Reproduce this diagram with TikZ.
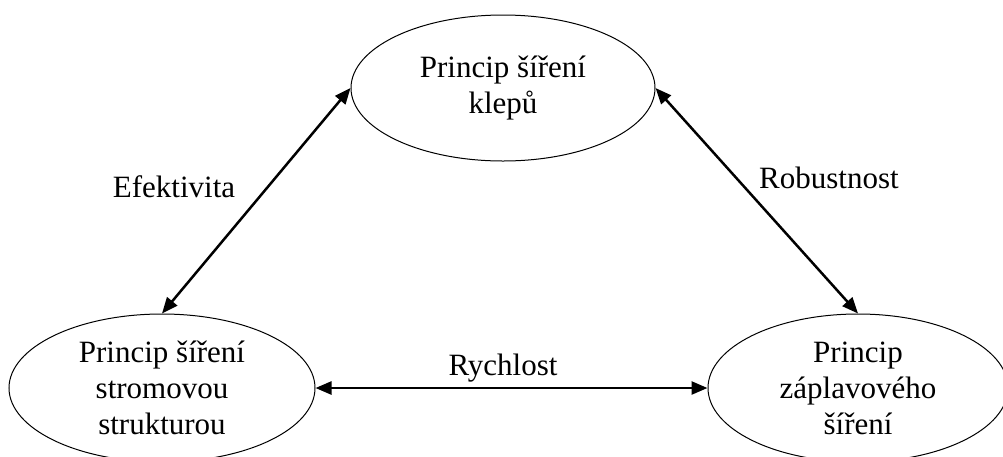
\documentclass[tikz,border=0pt]{standalone}
\usepackage{fontspec}
\setmainfont{Liberation Serif}
\usetikzlibrary{shapes.geometric,arrows.meta}
\begin{document}
\begin{tikzpicture}[x=1pt,y=-1pt,
  bubble/.style={ellipse,draw=black,line width=1pt,inner sep=0pt,align=center,
    font=\fontsize{31}{36}\selectfont},
  lbl/.style={anchor=base,inner sep=0pt,font=\fontsize{31}{36}\selectfont},
  link/.style={line width=2.5pt,{Triangle[length=16pt,width=13pt]}-{Triangle[length=16pt,width=13pt]}}]
\useasboundingbox (0,0) rectangle (1003,456);
\node[bubble,minimum width=304pt,minimum height=146pt] (top) at (503,88) {Princip šíření\\klepů};
\node[bubble,minimum width=306pt,minimum height=148pt] (bl) at (162,388) {Princip šíření\\stromovou\\strukturou};
\node[bubble,minimum width=300pt,minimum height=148pt] (br) at (858,388) {Princip\\záplavového\\šíření};
\draw[link] (top.west) -- (bl.north);
\draw[link] (top.east) -- (br.north);
\draw[link] (bl.east) -- (br.west);
\node[lbl] (ef) at (174,197) {Efektivita};
\node[lbl] (rb) at (829,188) {Robustnost};
\node[lbl] (ry) at (503,375) {Rychlost};
\end{tikzpicture}
\end{document}
